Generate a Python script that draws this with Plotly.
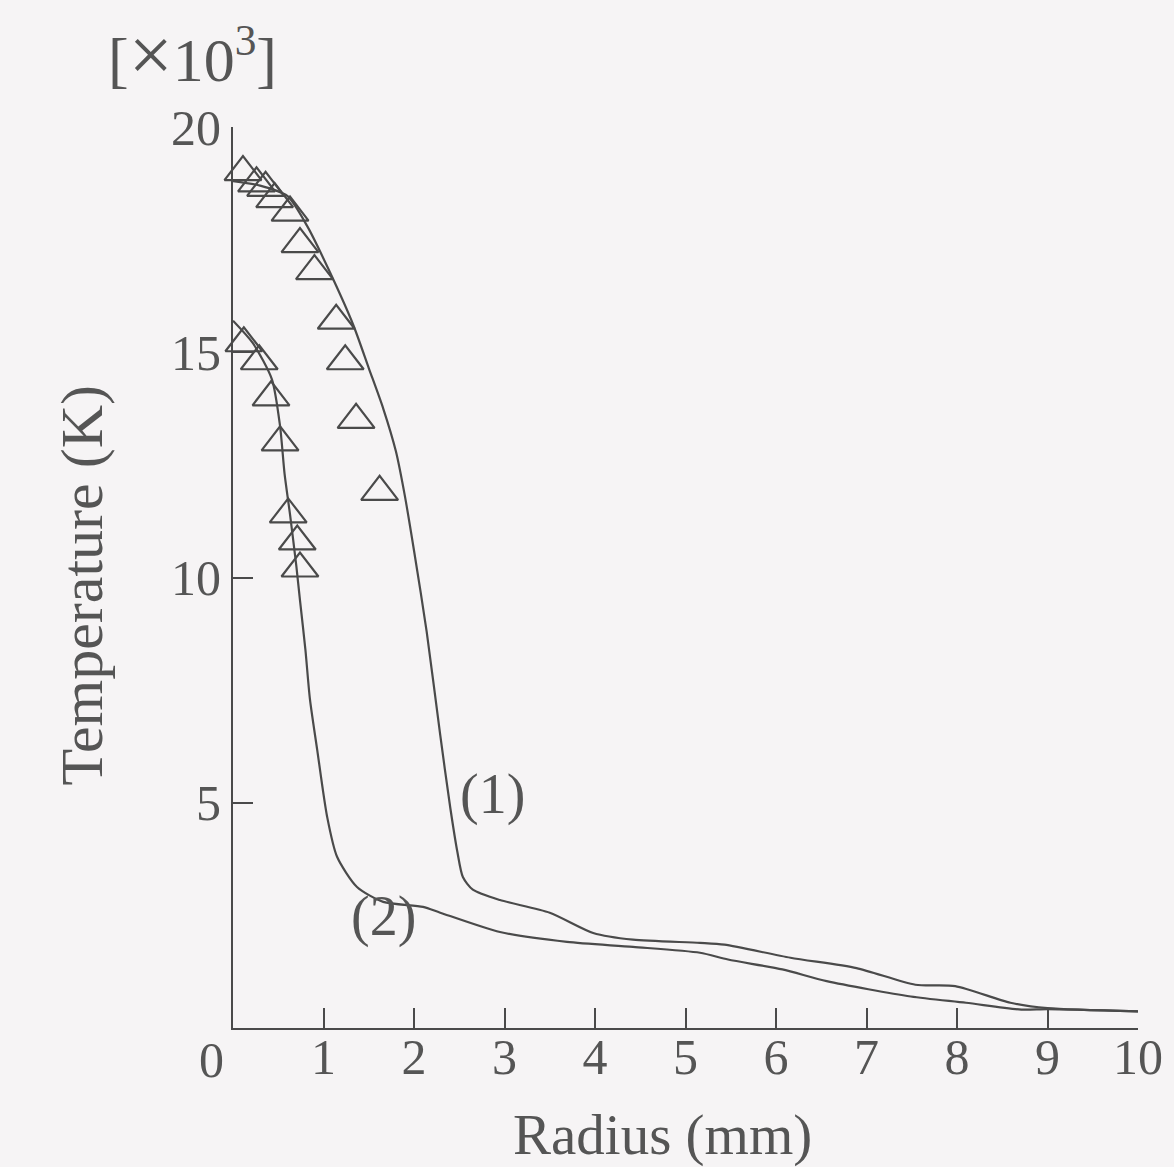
import plotly.graph_objects as go

# Curve (1)
r1 = [0, 0.3, 0.6, 0.82, 1.07, 1.33, 1.5, 1.66, 1.8, 1.9, 2.0, 2.14, 2.29, 2.4, 2.48, 2.54, 2.65,
      2.95, 3.5, 3.98, 4.42, 5.16, 5.43, 6.16, 6.89, 7.54, 7.98, 8.59, 9.0, 10.0]
t1 = [18.8, 18.7, 18.47, 17.8, 16.78, 15.6, 14.65, 13.75, 12.8, 11.8, 10.6, 8.8, 6.5, 4.9, 3.9, 3.35, 3.07,
      2.84, 2.56, 2.11, 1.96, 1.89, 1.85, 1.56, 1.33, 0.96, 0.93, 0.56, 0.44, 0.37]

# Curve (2)
r2 = [0, 0.22, 0.43, 0.52, 0.57, 0.63, 0.7, 0.74, 0.8, 0.85, 0.93, 1.04, 1.15, 1.37, 1.66, 2.1,
      2.29, 2.95, 3.69, 4.42, 5.16, 5.47, 6.07, 6.56, 7.49, 8.1, 8.71, 9.0, 10.0]
t2 = [15.7, 15.2, 14.4, 13.36, 12.3, 11.4, 10.25, 9.5, 8.4, 7.3, 6.18, 4.69, 3.8, 3.13, 2.8, 2.69,
      2.56, 2.13, 1.91, 1.8, 1.67, 1.52, 1.30, 1.04, 0.70, 0.56, 0.41, 0.42, 0.37]

# Measured points (triangles)
m1_r = [0.11, 0.26, 0.36, 0.46, 0.63, 0.74, 0.9, 1.14, 1.24, 1.36, 1.62]
m1_t = [19.0, 18.75, 18.65, 18.4, 18.1, 17.4, 16.8, 15.7, 14.8, 13.5, 11.9]
m2_r = [0.12, 0.29, 0.42, 0.52, 0.61, 0.71, 0.74]
m2_t = [15.2, 14.8, 14.0, 13.0, 11.4, 10.8, 10.2]

x_ticks = [1, 2, 3, 4, 5, 6, 7, 8, 9, 10]
y_ticks = [5, 10, 15, 20]

ink = "#4a4a4a"
txt = "#555555"
bg = "#f6f4f5"
font = "Liberation Serif"

fig = go.Figure()
fig.add_trace(go.Scatter(x=r1, y=t1, mode="lines", line=dict(color=ink, width=2.2, shape="spline", smoothing=0.7),
                         showlegend=False, cliponaxis=False))
fig.add_trace(go.Scatter(x=r2, y=t2, mode="lines", line=dict(color=ink, width=2.2, shape="spline", smoothing=0.7),
                         showlegend=False, cliponaxis=False))
fig.add_trace(go.Scatter(x=m1_r + m2_r, y=m1_t + m2_t, mode="markers",
                         marker=dict(symbol="triangle-up-open", size=32, color=ink, line=dict(width=2.2, color=ink)),
                         showlegend=False, cliponaxis=False))

axis_common = dict(ticks="inside", ticklen=20, tickwidth=2, tickcolor=ink,
                   showline=True, linecolor=ink, linewidth=2.2, showgrid=False, zeroline=False)

fig.update_layout(
    width=1174, height=1167,
    margin=dict(l=233, r=36, t=127, b=139),
    paper_bgcolor=bg, plot_bgcolor=bg,
    font=dict(family=font, color=txt, size=50),
    xaxis=dict(range=[0, 10], tickvals=x_ticks, ticktext=[str(v) for v in x_ticks],
               ticklabelstandoff=-16, tickfont=dict(family=font, size=50, color=txt), **axis_common),
    yaxis=dict(range=[0, 20], tickvals=y_ticks, ticktext=[str(v) for v in y_ticks],
               tickfont=dict(family=font, size=50, color=txt), **axis_common),
    annotations=[
        dict(text="0", xref="paper", yref="paper", x=-0.0243, y=-0.0355, xanchor="center", yanchor="middle",
             showarrow=False, font=dict(family=font, size=50, color=txt)),
        dict(text="[<span style=\"font-size:78px\">×</span>10<sup>3</sup>]", xref="paper", yref="paper",
             x=-0.045, y=1.08, xanchor="center", yanchor="middle", showarrow=False,
             font=dict(family=font, size=62, color=txt)),
        dict(text="Temperature (K)", xref="paper", yref="paper", x=-0.167, y=0.492, textangle=-90,
             xanchor="center", yanchor="middle", showarrow=False,
             font=dict(family=font, size=60, color=txt)),
        dict(text="Radius (mm)", xref="paper", yref="paper", x=0.475, y=-0.119,
             xanchor="center", yanchor="middle", showarrow=False,
             font=dict(family=font, size=57, color=txt)),
        dict(text="(1)", x=2.87, y=5.18, xanchor="center", yanchor="middle", showarrow=False,
             font=dict(family=font, size=56, color=txt)),
        dict(text="(2)", x=1.66, y=2.47, xanchor="center", yanchor="middle", showarrow=False,
             font=dict(family=font, size=56, color=txt)),
    ],
)

fig.write_html("out.html")
